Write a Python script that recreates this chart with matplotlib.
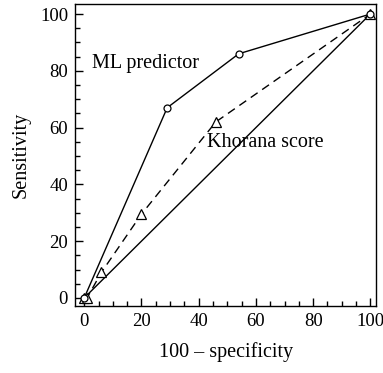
import matplotlib
matplotlib.use("Agg")
import matplotlib.pyplot as plt
from matplotlib.ticker import MultipleLocator

plt.rcParams['font.family'] = ['Liberation Serif', 'DejaVu Serif']

ml_x = [0, 29, 54, 100]
ml_y = [0, 67, 86, 100]
kh_x = [0, 1, 6, 20, 46, 100]
kh_y = [0, 0, 9, 29.5, 62, 100]
ref_x = [0, 100]
ref_y = [0, 100]
ticks = [0, 20, 40, 60, 80, 100]

fig = plt.figure(figsize=(3.83, 3.73), dpi=100)
ax = fig.add_axes([0.196, 0.18, 0.786, 0.809])

ax.plot(ref_x, ref_y, color='black', lw=1.0)
ax.plot(kh_x, kh_y, color='black', lw=1.0, ls=(0, (6, 4)), marker='^',
        markersize=6.5, markerfacecolor='white', markeredgecolor='black', markeredgewidth=0.9)
ax.plot(ml_x, ml_y, color='black', lw=1.0, marker='o',
        markersize=5, markerfacecolor='white', markeredgecolor='black', markeredgewidth=0.9)

ax.set_xlim(-3.2, 102)
ax.set_ylim(-2.8, 103.5)
ax.set_xticks(ticks)
ax.set_yticks(ticks)
ax.xaxis.set_minor_locator(MultipleLocator(5))
ax.yaxis.set_minor_locator(MultipleLocator(5))
ax.tick_params(which='both', direction='in', top=False, right=False, labelsize=13.5, width=1.0)
ax.tick_params(which='major', length=6, pad=5)
ax.tick_params(which='minor', length=3.5)
for s in ax.spines.values():
    s.set_linewidth(1.0)

ax.text(2.8, 82.7, 'ML predictor', fontsize=14.5, va='center', ha='left')
ax.text(43, 54.6, 'Khorana score', fontsize=14.5, va='center', ha='left')

ax.set_xlabel('100 – specificity', fontsize=14.5, labelpad=9)
ax.set_ylabel('Sensitivity', fontsize=14.5, labelpad=7)

fig.savefig('out.png', dpi=100)
